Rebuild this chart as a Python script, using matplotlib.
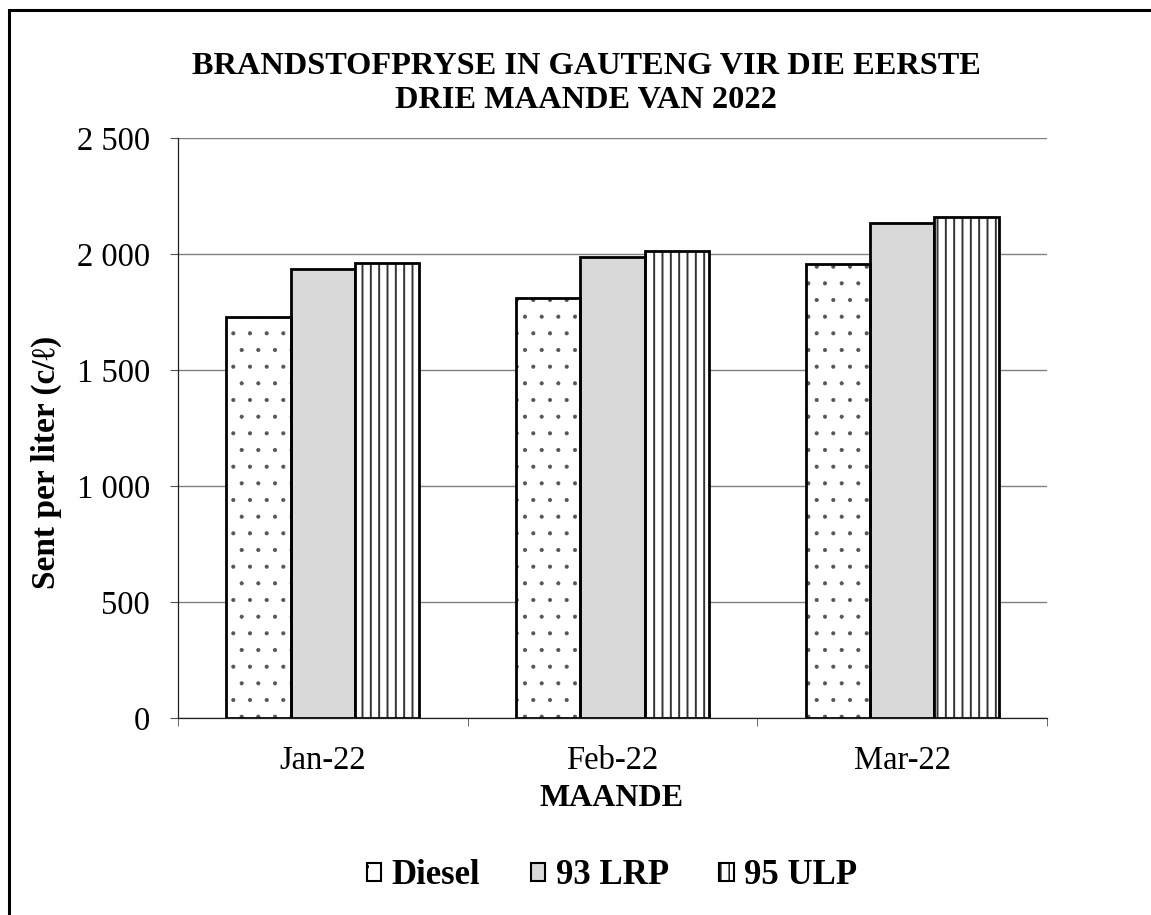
import matplotlib
matplotlib.use("Agg")
import matplotlib.pyplot as plt
import numpy as np
from matplotlib.patches import Rectangle
from matplotlib.ticker import FuncFormatter, MultipleLocator

months = ["Jan-22", "Feb-22", "Mar-22"]
series_names = ["Diesel", "93 LRP", "95 ULP"]
diesel = [1728, 1810, 1957]
lrp93 = [1935, 1987, 2134]
ulp95 = [1961, 2013, 2159]

title_lines = ["BRANDSTOFPRYSE IN GAUTENG VIR DIE EERSTE", "DRIE MAANDE VAN 2022"]
xlabel = "MAANDE"
ylabel = "Sent per liter (c/\u2113)"

serif = ["Liberation Serif", "DejaVu Serif"]
plt.rcParams['font.family'] = serif

fig = plt.figure(figsize=(11.51, 9.15), dpi=100)
ax = fig.add_axes([178/1151, 1-718/915, (1047-178)/1151, (718-138)/915])

x = np.arange(len(months))
w = 0.222
edge_lw = 2.0

# Diesel: small grey dots, then black outline
plt.rcParams['hatch.linewidth'] = 0.5
ax.bar(x - w, diesel, width=w, facecolor='white', edgecolor='#555555',
       hatch='.', linewidth=0, zorder=3)
ax.bar(x - w, diesel, width=w, facecolor='none', edgecolor='black',
       linewidth=edge_lw, zorder=4)
# 93 LRP: solid light grey
ax.bar(x, lrp93, width=w, facecolor='#d9d9d9', edgecolor='black',
       linewidth=edge_lw, zorder=3)
# 95 ULP: vertical lines
plt.rcParams['hatch.linewidth'] = 1.4
ax.bar(x + w, ulp95, width=w, facecolor='white', edgecolor='#333333',
       hatch='||', linewidth=0, zorder=3)
ax.bar(x + w, ulp95, width=w, facecolor='none', edgecolor='black',
       linewidth=edge_lw, zorder=4)

ax.set_xlim(-0.5, 2.5)
ax.set_ylim(0, 2500)
ax.yaxis.set_major_locator(MultipleLocator(500))
ax.yaxis.set_major_formatter(FuncFormatter(lambda v, p: f"{int(v):,}".replace(",", " ")))
ax.grid(axis='y', color='#808080', linewidth=1.0, zorder=0)
ax.set_axisbelow(True)
for s in ['top', 'right']:
    ax.spines[s].set_visible(False)
for s in ['left', 'bottom']:
    ax.spines[s].set_color('#202020')
    ax.spines[s].set_linewidth(0.9)

ax.set_xticks(x)
ax.set_xticklabels(months, fontsize=23.5)
ax.set_xticks([-0.5, 0.5, 1.5, 2.5], minor=True)
ax.tick_params(axis='x', which='major', length=0, pad=20)
ax.tick_params(axis='x', which='minor', length=6, color='#505050', direction='out')
ax.tick_params(axis='y', labelsize=23.5, length=6, color='#505050', direction='out', pad=14)

ax.set_xlabel(xlabel, fontsize=23, fontweight='bold')
ax.xaxis.set_label_coords(612/1151, 1-799/915, transform=fig.transFigure)
ax.set_ylabel(ylabel, fontsize=24, fontweight='bold')
ax.yaxis.set_label_coords(46/1151, 1-462/915, transform=fig.transFigure)
ax.xaxis.label.set_va('center')
ax.yaxis.label.set_va('center')

fig.text(586/1151, 1-66/915, title_lines[0], ha='center', va='center',
         fontsize=23.3, fontweight='bold')
fig.text(586/1151, 1-101/915, title_lines[1], ha='center', va='center',
         fontsize=23.3, fontweight='bold')

# legend proxies built from the same styles
plt.rcParams['hatch.linewidth'] = 1.0
handles = [
    Rectangle((0, 0), 1, 1, facecolor='white', edgecolor='black', hatch='.', linewidth=1.5),
    Rectangle((0, 0), 1, 1, facecolor='#d9d9d9', edgecolor='black', linewidth=1.5),
    Rectangle((0, 0), 1, 1, facecolor='white', edgecolor='black', hatch='||', linewidth=1.5),
]
leg = fig.legend(handles, series_names, loc='center',
                 bbox_to_anchor=(612/1151, 1-876/915), ncol=3,
                 frameon=False, prop={'size': 25, 'weight': 'bold', 'family': serif},
                 handlelength=0.42, handleheight=0.42, handletextpad=0.3,
                 columnspacing=1.45)

fig.patches.append(Rectangle((9/1151, -0.1), 1.2, 1-10/915+0.1, transform=fig.transFigure,
                             fill=False, edgecolor='black', linewidth=2.2))

fig.savefig("out.png", dpi=100)
